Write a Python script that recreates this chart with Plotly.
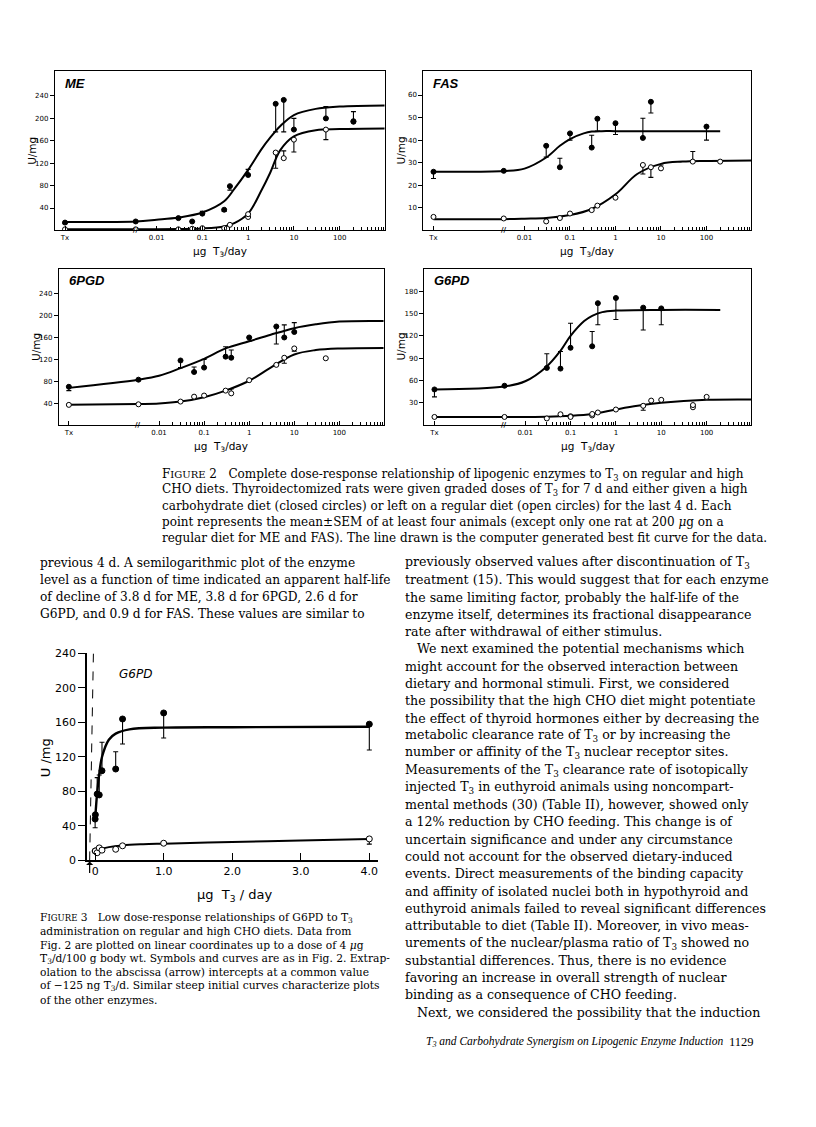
import math
import plotly.graph_objects as go

PAGE_W, PAGE_H = 816, 1127
OFF = 8                      # browser body margin around the plot div
W, H = PAGE_W - 2 * OFF, PAGE_H - 2 * OFF
TX = 1e-4  # thyroidectomized (no T3) plotted at the left end of the log axis

# ---------------- Figure 2 data ----------------
# ME
me_cho_dose = [TX, 0.0035, 0.03, 0.06, 0.1, 0.3, 0.4, 1, 4, 6, 10, 50, 200]
me_cho = [14, 16, 22, 16, 30, 37, 79, 99, 226, 233, 180, 200, 194]
me_cho_up = [0, 0, 0, 0, 4, 0, 0, 10, 0, 0, 20, 21, 18]
me_cho_dn = [2, 0, 2, 0, 0, 3, 7, 0, 50, 57, 0, 0, 0]
me_reg_dose = [TX, 0.0035, 0.03, 0.06, 0.1, 0.3, 0.4, 1, 1, 4, 6, 10, 50, 200]
me_reg = [2, 2, 2, 3, 4, 4, 10, 24, 29, 139, 129, 162, 180, 195]
me_reg_up = [0, 0, 0, 0, 0, 0, 0, 0, 0, 0, 13, 0, 0, 0]
me_reg_dn = [0, 0, 0, 0, 0, 0, 0, 0, 0, 28, 0, 22, 18, 0]
me_cho_fit_dose = [TX, 0.0035, 0.01, 0.03, 0.1, 0.3, 0.5, 1, 2, 3, 5, 10, 30, 100, 1000]
me_cho_fit = [15, 16, 19, 23, 32, 52, 74, 108, 146, 165, 186, 206, 217, 221, 223]
me_reg_fit_dose = [TX, 0.0035, 0.01, 0.03, 0.1, 0.3, 0.5, 1, 2, 3, 5, 10, 30, 100, 1000]
me_reg_fit = [2, 2, 2.2, 2.6, 3.5, 7, 13, 30, 73, 102, 143, 168, 179, 181, 182]

# FAS
fas_cho_dose = [TX, 0.0035, 0.03, 0.06, 0.1, 0.3, 0.4, 1, 4, 6, 100]
fas_cho = [26, 26.4, 37.5, 28, 43, 36.7, 49.5, 47.5, 41, 57, 46]
fas_cho_up = [0, 0, 0, 4, 0, 5.5, 0, 0, 8.7, 0, 0]
fas_cho_dn = [3, 0, 5, 0, 3, 0, 5.5, 5, 0, 5, 6]
fas_reg_dose = [TX, 0.0035, 0.03, 0.06, 0.1, 0.3, 0.4, 1, 4, 6, 10, 50, 200]
fas_reg = [6, 5.3, 4, 5.5, 7.5, 9, 11, 14.5, 29, 28, 27.5, 30.5, 30.5]
fas_reg_up = [0, 0, 0, 0, 0, 0, 0, 0, 0, 0, 1.5, 4.5, 0]
fas_reg_dn = [0, 0, 0, 0, 0, 0, 0, 0, 4, 4.5, 0, 0, 0]
fas_cho_fit_dose = [TX, 0.0035, 0.01, 0.03, 0.06, 0.1, 0.2, 0.3, 0.5, 1, 10, 100, 200]
fas_cho_fit = [26, 26.3, 27.4, 32.3, 37.5, 40.5, 43, 43.8, 44, 44, 44, 44, 44]
fas_reg_fit_dose = [TX, 0.0035, 0.01, 0.03, 0.1, 0.3, 1, 3, 10, 30, 100, 1000]
fas_reg_fit = [5, 5, 5.2, 5.5, 6.8, 9.5, 16, 25, 29.5, 30.5, 30.8, 31]

# 6PGD
pgd_cho_dose = [TX, 0.0035, 0.03, 0.06, 0.1, 0.3, 0.4, 1, 4, 6, 10]
pgd_cho = [70, 83, 118, 97, 105, 125, 123, 160, 180, 160, 170]
pgd_cho_up = [0, 0, 0, 9, 15, 18, 14, 0, 0, 23, 17]
pgd_cho_dn = [7, 0, 13, 0, 0, 0, 0, 7, 32, 0, 0]
pgd_reg_dose = [TX, 0.0035, 0.03, 0.06, 0.1, 0.3, 0.4, 1, 4, 6, 10, 50]
pgd_reg = [37, 38, 43, 52, 54, 63, 58, 82, 110, 123, 140, 122]
pgd_reg_up = [0, 0, 0, 0, 0, 0, 8, 0, 0, 0, 0, 0]
pgd_reg_dn = [0, 0, 0, 0, 0, 0, 0, 0, 0, 10, 5, 0]
pgd_cho_fit_dose = [TX, 0.0035, 0.01, 0.03, 0.1, 0.3, 1, 3, 10, 30, 100, 1000]
pgd_cho_fit = [68, 83, 90, 104, 121, 140, 153, 165, 177, 184, 189, 190]
pgd_reg_fit_dose = [TX, 0.0035, 0.01, 0.03, 0.1, 0.3, 1, 3, 10, 30, 100, 1000]
pgd_reg_fit = [37, 38.5, 39.5, 43, 51, 63, 81, 105, 129, 137, 140, 141]

# G6PD
g6_cho_dose = [TX, 0.0035, 0.03, 0.06, 0.1, 0.3, 0.4, 1, 4, 10]
g6_cho = [48, 53, 77, 76, 104, 106, 164, 171, 158, 157]
g6_cho_up = [0, 0, 19, 23, 33, 20, 0, 0, 0, 0]
g6_cho_dn = [10, 0, 0, 0, 0, 0, 29, 29, 30, 22]
g6_reg_dose = [TX, 0.0035, 0.03, 0.06, 0.1, 0.1, 0.3, 0.3, 0.4, 1, 4, 6, 10, 50, 50, 100]
g6_reg = [11, 11, 9, 14.6, 12, 11, 13, 15, 17, 21, 26, 33, 34, 24, 27, 38]
g6_reg_up = [0] * 16
g6_reg_dn = [0, 0, 0, 0, 0, 0, 0, 0, 0, 0, 6, 0, 0, 0, 0, 0]
g6_cho_fit_dose = [TX, 0.0035, 0.01, 0.03, 0.06, 0.1, 0.2, 0.3, 0.5, 1, 10, 200]
g6_cho_fit = [48, 52, 59, 79, 100, 120, 140, 147, 152, 154, 155, 155]
g6_reg_fit_dose = [TX, 0.0035, 0.01, 0.03, 0.1, 0.3, 1, 3, 10, 100, 1000]
g6_reg_fit = [11, 11, 11, 11.3, 12.5, 15, 21, 26, 30, 34, 34.5]

# ---------------- Figure 3 data (linear dose) ----------------
f3_cho_dose = [0, 0.0035, 0.03, 0.06, 0.1, 0.3, 0.4, 1.0, 4.0]
f3_cho = [48, 53, 77, 76, 104, 106, 164, 171, 158]
f3_cho_up = [0, 0, 19, 23, 33, 20, 0, 0, 0]
f3_cho_dn = [10, 0, 0, 0, 0, 0, 29, 29, 30]
f3_reg_dose = [0, 0.0035, 0.03, 0.06, 0.1, 0.3, 0.4, 1.0, 4.0]
f3_reg = [11, 11, 9, 14.6, 12, 13, 17, 20, 25]
f3_reg_up = [0] * 9
f3_reg_dn = [0, 0, 0, 0, 0, 0, 0, 0, 6]
f3_cho_fit_dose = [0, 0.01, 0.03, 0.06, 0.1, 0.2, 0.3, 0.5, 1.0, 2.0, 4.0]
f3_cho_fit = [48, 59, 79, 100, 120, 140, 147, 152, 154, 154.5, 155]
f3_reg_fit_dose = [0, 0.05, 0.1, 0.2, 0.4, 0.7, 1.0, 2.0, 3.0, 4.0]
f3_reg_fit = [11, 12, 13.5, 15.5, 17.5, 18.8, 19.5, 21.5, 23.2, 25]
f3_extrap_x = [-0.025, -0.08]
f3_extrap_y = [240, 0]

log_tickvals = [TX, 0.01, 0.1, 1, 10, 100]
log_ticktext = ["Tx", "0.01", "0.1", "1", "10", "100"]
log_minor = [m * 10 ** k for k in range(-2, 3) for m in range(2, 10)]
AXIS_BREAK = 0.0035

fig = go.Figure()


# page pixel -> paper fraction
def px(x):
    return (x - OFF) / W


def py(y):
    return 1 - (y - OFF) / H


def xd(l, r):
    return [px(l), px(r)]


def yd(t, b):
    return [py(b), py(t)]


def curve(xs, ys, ax, width=2.0, dash="solid"):
    fig.add_trace(go.Scatter(x=xs, y=ys, mode="lines", xaxis=ax[0], yaxis=ax[1],
                             line=dict(color="black", width=width, shape="spline", dash=dash),
                             showlegend=False, hoverinfo="skip"))


def points(xs, ys, up, dn, filled, ax, size=5):
    fig.add_trace(go.Scatter(
        x=xs, y=ys, mode="markers", xaxis=ax[0], yaxis=ax[1], showlegend=False,
        marker=dict(size=size, color="black" if filled else "white",
                    line=dict(color="black", width=1)),
        error_y=dict(type="data", symmetric=False, array=up, arrayminus=dn,
                     color="black", thickness=1.1, width=2.5)))


panels = [
    ("ME", ("x", "y"), (55, 385), (66, 227), [0, 284], [40, 80, 120, 160, 200, 240],
     (me_cho_fit_dose, me_cho_fit, me_reg_fit_dose, me_reg_fit,
      me_cho_dose, me_cho, me_cho_up, me_cho_dn, me_reg_dose, me_reg, me_reg_up, me_reg_dn)),
    ("FAS", ("x2", "y2"), (424, 752), (66, 227), [0, 70.5], [10, 20, 30, 40, 50, 60],
     (fas_cho_fit_dose, fas_cho_fit, fas_reg_fit_dose, fas_reg_fit,
      fas_cho_dose, fas_cho, fas_cho_up, fas_cho_dn, fas_reg_dose, fas_reg, fas_reg_up, fas_reg_dn)),
    ("6PGD", ("x3", "y3"), (59, 384), (266, 424), [0, 285], [40, 80, 120, 160, 200, 240],
     (pgd_cho_fit_dose, pgd_cho_fit, pgd_reg_fit_dose, pgd_reg_fit,
      pgd_cho_dose, pgd_cho, pgd_cho_up, pgd_cho_dn, pgd_reg_dose, pgd_reg, pgd_reg_up, pgd_reg_dn)),
    ("G6PD", ("x4", "y4"), (425, 752), (266, 424), [0, 210], [30, 60, 90, 120, 150, 180],
     (g6_cho_fit_dose, g6_cho_fit, g6_reg_fit_dose, g6_reg_fit,
      g6_cho_dose, g6_cho, g6_cho_up, g6_cho_dn, g6_reg_dose, g6_reg, g6_reg_up, g6_reg_dn)),
]

annotations = []
layout_axes = {}
FIG_FONT = "DejaVu Sans"

for name, ax, (xl, xr), (yt, yb), yrange, yticks, d in panels:
    cfx, cfy, rfx, rfy, cx, cy, cu, cdn, rx, ry, ru, rdn = d
    curve(cfx, cfy, ax)
    curve(rfx, rfy, ax)
    points(rx, ry, ru, rdn, False, ax)
    points(cx, cy, cu, cdn, True, ax)
    xkey = "xaxis" + ax[0][1:]
    ykey = "yaxis" + ax[1][1:]
    layout_axes[xkey] = dict(
        domain=xd(xl, xr), anchor=ax[1], type="log", range=[-4.22, 2.98],
        tickvals=log_tickvals, ticktext=log_ticktext, ticks="inside", ticklen=4,
        tickwidth=1, tickcolor="black", showline=True, linecolor="black", linewidth=1.3,
        mirror=True, showgrid=False, zeroline=False,
        tickfont=dict(family=FIG_FONT, size=7, color="black"),
        minor=dict(tickvals=log_minor, ticks="inside", ticklen=3, tickwidth=0.8,
                   tickcolor="black", showgrid=False))
    layout_axes[ykey] = dict(
        domain=yd(yt, yb), anchor=ax[0], range=yrange, tickvals=yticks,
        ticks="outside", ticklen=4, tickwidth=1, tickcolor="black",
        showline=True, linecolor="black", linewidth=1.3, mirror=True,
        showgrid=False, zeroline=False,
        tickfont=dict(family=FIG_FONT, size=7, color="black"))
    # axis break mark between Tx and the dose scale
    annotations.append(dict(text="<b>//</b>", x=math.log10(AXIS_BREAK), y=0, xref=ax[0], yref=ax[1],
                            xanchor="center", yanchor="middle", showarrow=False,
                            font=dict(family=FIG_FONT, size=7, color="black")))
    annotations.append(dict(text="<b><i>%s</i></b>" % name, x=px(xl + 8), y=py(yt + 12),
                            xref="paper", yref="paper", xanchor="left", yanchor="middle",
                            showarrow=False, font=dict(family="Liberation Sans", size=13, color="black")))
    annotations.append(dict(text="μg  T<sub>3</sub>/day", x=px((xl + xr) / 2), y=py(yb + 22),
                            xref="paper", yref="paper", xanchor="center", yanchor="middle",
                            showarrow=False, font=dict(family=FIG_FONT, size=10.5, color="black")))
    annotations.append(dict(text="U/mg", x=px(xl - 23), y=py((yt + yb) / 2), textangle=-90,
                            xref="paper", yref="paper", xanchor="center", yanchor="middle",
                            showarrow=False, font=dict(family=FIG_FONT, size=10.5, color="black")))

# Figure 3
ax5 = ("x5", "y5")
curve(f3_extrap_x, f3_extrap_y, ax5, width=1, dash="dash")
curve(f3_cho_fit_dose, f3_cho_fit, ax5, width=2.4)
curve(f3_reg_fit_dose, f3_reg_fit, ax5, width=2.0)
points(f3_reg_dose, f3_reg, f3_reg_up, f3_reg_dn, False, ax5, size=6)
points(f3_cho_dose, f3_cho, f3_cho_up, f3_cho_dn, True, ax5, size=6)
layout_axes["xaxis5"] = dict(
    domain=xd(87, 378), anchor="y5", range=[-0.12, 4.12], tickvals=[0, 1, 2, 3, 4],
    ticktext=["0", "1.0", "2.0", "3.0", "4.0"], ticks="inside", ticklen=8, tickwidth=1.2,
    tickcolor="black", showline=True, linecolor="black", linewidth=1.5, showgrid=False,
    zeroline=False, tickfont=dict(family=FIG_FONT, size=11, color="black"))
layout_axes["yaxis5"] = dict(
    domain=yd(655, 864.5), anchor="x5", range=[0, 240], tickvals=[0, 40, 80, 120, 160, 200, 240],
    ticks="outside", ticklen=7, tickwidth=1.2, tickcolor="black", showline=True,
    linecolor="black", linewidth=1.5, showgrid=False, zeroline=False,
    tickfont=dict(family=FIG_FONT, size=11, color="black"))
annotations += [
    dict(text="<i>G6PD</i>", x=px(117), y=py(676), xref="paper", yref="paper", xanchor="left",
         yanchor="middle", showarrow=False, font=dict(family=FIG_FONT, size=12, color="black")),
    dict(text="μg  T<sub>3</sub> / day", x=px(235), y=py(900), xref="paper", yref="paper",
         xanchor="center", yanchor="middle", showarrow=False,
         font=dict(family=FIG_FONT, size=13, color="black")),
    dict(text="U /mg", x=px(45), y=py(760), textangle=-90, xref="paper", yref="paper",
         xanchor="center", yanchor="middle", showarrow=False,
         font=dict(family=FIG_FONT, size=13, color="black")),
    dict(text="", x=-0.08, y=0, xref="x5", yref="y5", showarrow=True, ax=0, ay=14,
         arrowhead=1, arrowsize=1, arrowwidth=1.2, arrowcolor="black", standoff=1),
]

# ---------------- page text ----------------
cap2_lines = [
    "F<span style='font-size:10px'>IGURE</span> 2   Complete dose-response relationship of lipogenic enzymes to T<sub>3</sub> on regular and high",
    "CHO diets. Thyroidectomized rats were given graded doses of T<sub>3</sub> for 7 d and either given a high",
    "carbohydrate diet (closed circles) or left on a regular diet (open circles) for the last 4 d. Each",
    "point represents the mean±SEM of at least four animals (except only one rat at 200 <i>μ</i>g on a",
    "regular diet for ME and FAS). The line drawn is the computer generated best fit curve for the data.",
]
left_lines = [
    "previous 4 d. A semilogarithmic plot of the enzyme",
    "level as a function of time indicated an apparent half-life",
    "of decline of 3.8 d for ME, 3.8 d for 6PGD, 2.6 d for",
    "G6PD, and 0.9 d for FAS. These values are similar to",
]
right_lines = [
    "previously observed values after discontinuation of T<sub>3</sub>",
    "treatment (15). This would suggest that for each enzyme",
    "the same limiting factor, probably the half-life of the",
    "enzyme itself, determines its fractional disappearance",
    "rate after withdrawal of either stimulus.",
    "   We next examined the potential mechanisms which",
    "might account for the observed interaction between",
    "dietary and hormonal stimuli. First, we considered",
    "the possibility that the high CHO diet might potentiate",
    "the effect of thyroid hormones either by decreasing the",
    "metabolic clearance rate of T<sub>3</sub> or by increasing the",
    "number or affinity of the T<sub>3</sub> nuclear receptor sites.",
    "Measurements of the T<sub>3</sub> clearance rate of isotopically",
    "injected T<sub>3</sub> in euthyroid animals using noncompart-",
    "mental methods (30) (Table II), however, showed only",
    "a 12% reduction by CHO feeding. This change is of",
    "uncertain significance and under any circumstance",
    "could not account for the observed dietary-induced",
    "events. Direct measurements of the binding capacity",
    "and affinity of isolated nuclei both in hypothyroid and",
    "euthyroid animals failed to reveal significant differences",
    "attributable to diet (Table II). Moreover, in vivo meas-",
    "urements of the nuclear/plasma ratio of T<sub>3</sub> showed no",
    "substantial differences. Thus, there is no evidence",
    "favoring an increase in overall strength of nuclear",
    "binding as a consequence of CHO feeding.",
    "   Next, we considered the possibility that the induction",
]
cap3_lines = [
    "F<span style='font-size:8.5px'>IGURE</span> 3   Low dose-response relationships of G6PD to T<sub>3</sub>",
    "administration on regular and high CHO diets. Data from",
    "Fig. 2 are plotted on linear coordinates up to a dose of 4 <i>μ</i>g",
    "T<sub>3</sub>/d/100 g body wt. Symbols and curves are as in Fig. 2. Extrap-",
    "olation to the abscissa (arrow) intercepts at a common value",
    "of −125 ng T<sub>3</sub>/d. Similar steep initial curves characterize plots",
    "of the other enzymes.",
]

SERIF = "DejaVu Serif"


def text_block(lines, x0, y0, dy, size):
    for i, t in enumerate(lines):
        annotations.append(dict(text=t, x=px(x0), y=py(y0 + i * dy), xref="paper", yref="paper",
                                xanchor="left", yanchor="middle", showarrow=False,
                                font=dict(family=SERIF, size=size, color="black")))


text_block(cap2_lines, 160, 474, 16.0, 12.0)
text_block(left_lines, 38, 563, 17.5, 12.2)
text_block(right_lines, 403, 563, 17.5, 12.6)
text_block(cap3_lines, 38, 923, 13.8, 10.7)
annotations += [
    dict(text="<i>T<sub>3</sub> and Carbohydrate Synergism on Lipogenic Enzyme Induction</i>",
         x=px(425), y=py(1048), xref="paper", yref="paper", xanchor="left", yanchor="middle",
         showarrow=False, font=dict(family="Liberation Serif", size=11.5, color="black")),
    dict(text="1129", x=px(757), y=py(1048), xref="paper", yref="paper", xanchor="right",
         yanchor="middle", showarrow=False, font=dict(family="Liberation Serif", size=12.5, color="black")),
]

fig.update_layout(width=W, height=H, margin=dict(l=0, r=0, t=0, b=0),
                  paper_bgcolor="white", plot_bgcolor="white", showlegend=False,
                  annotations=annotations, **layout_axes)
fig.write_html("out.html")
